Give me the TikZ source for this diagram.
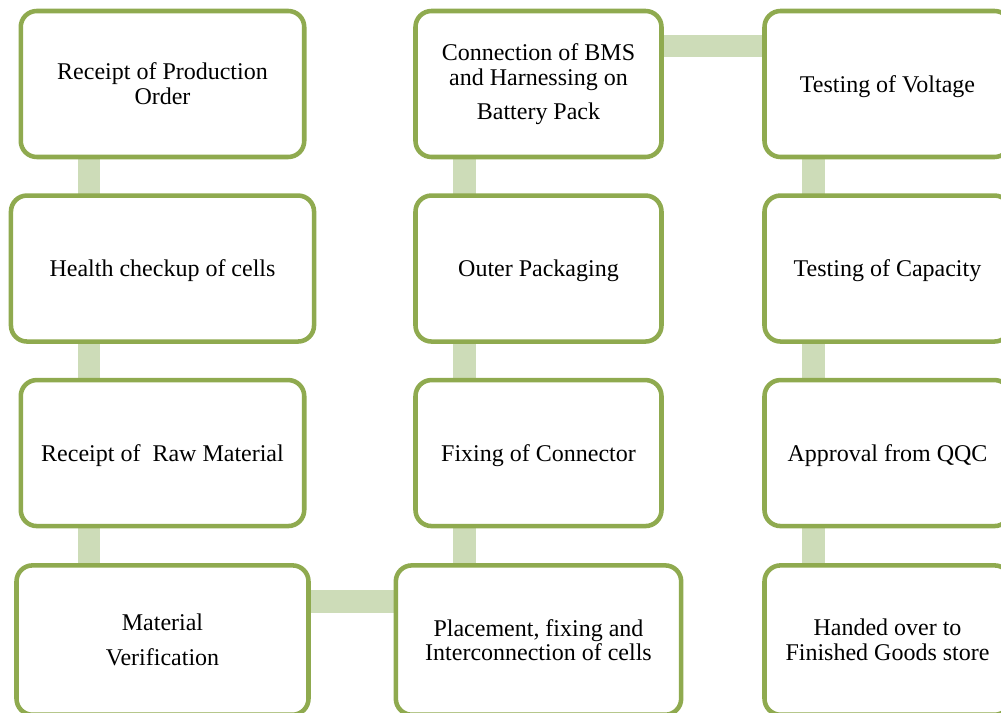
\documentclass[tikz,border=0pt]{standalone}
\usepackage{fontspec}
\setmainfont{Liberation Serif}
\usepackage{tikz}
\usetikzlibrary{positioning, backgrounds}
\definecolor{stageline}{RGB}{143,170,79}
\definecolor{linkfill}{RGB}{205,220,184}

\begin{document}
\begin{tikzpicture}[x=0.75pt,y=-0.75pt,node distance=138.4pt and 282pt,on grid,
    stage/.style={draw=stageline, line width=3.4pt, fill=white, rounded corners=12pt,
      minimum width=184.5pt, minimum height=109.5pt, align=center,
      font=\fontsize{18}{18.5}\selectfont},
    oneline/.style={text height=16pt, text depth=3.9pt},
    link/.style={draw=linkfill, line width=16.8pt}]
       \useasboundingbox (0,0) rectangle (1001,713);
       \node[stage, minimum width=212.6pt] (s_1) at (162.5,84) {Receipt of Production\\Order};
        \node[stage, oneline, minimum width=227.3pt] (s_2) [below =of s_1] {Health checkup of cells};
        \node[stage, oneline, minimum width=212.6pt] (s_3) [below =of s_2] {Receipt of~ Raw Material};
        \node[stage, minimum width=219pt, minimum height=112pt] (s_4) [below =140.25pt of s_3] {Material\\[7.5pt]Verification};
        \node[stage] (s_5) [right =of s_1] {Connection of BMS\\and Harnessing on\\[7pt]Battery Pack};
        \node[stage, oneline] (s_6) [below =of s_5] {Outer Packaging};
        \node[stage, oneline] (s_7) [below =of s_6] {Fixing of Connector};
        \node[stage, minimum width=214pt, minimum height=112pt] (s_8) [below =140.25pt of s_7] {Placement, fixing and\\Interconnection of cells};
        \node[stage, oneline] (s_9) [right =261.75pt of s_5] {Testing of Voltage};
        \node[stage, oneline] (s_10) [below =of s_9] {Testing of Capacity};
        \node[stage, oneline] (s_11) [below =of s_10] {Approval from QQC};
        \node[stage, minimum height=112pt] (s_12) [below =140.25pt of s_11] {Handed over to\\Finished Goods store};

        \begin{scope}[on background layer]
        \path[link]
        ([xshift=-55.2pt]s_1.center) edge ([xshift=-55.2pt]s_4.center)
        ([xshift=-55.5pt]s_5.center) edge ([xshift=-55.5pt]s_8.center)
        ([xshift=-55.5pt]s_9.center) edge ([xshift=-55.5pt]s_12.center)
        ([yshift=29pt]s_4.center) edge ([yshift=29pt]s_8.center)
        ([yshift=28.5pt]s_5.center) edge ([yshift=28.5pt]s_9.center)
        ;
        \end{scope}
    \end{tikzpicture}
\end{document}
